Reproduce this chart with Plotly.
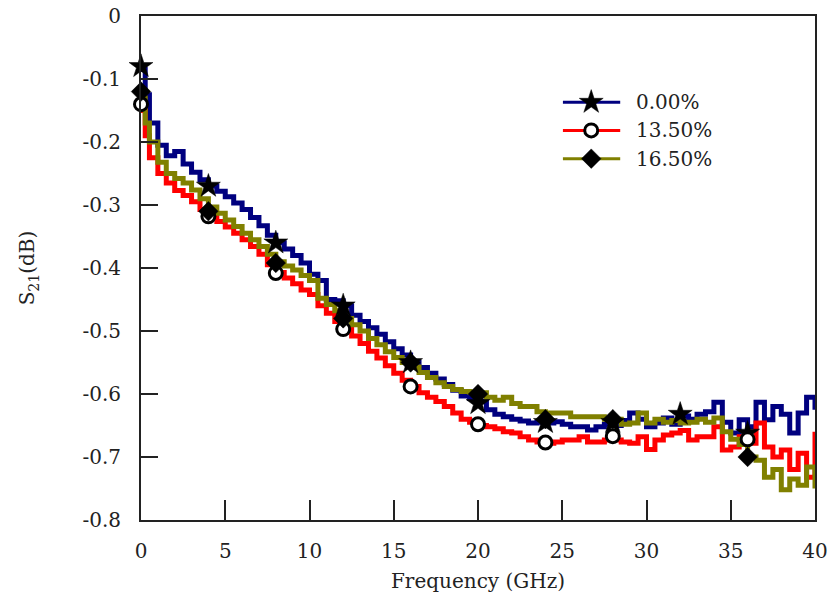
import plotly.graph_objects as go

freq = [0.0, 0.25, 0.5, 1.0, 1.5, 2.0, 2.5, 3.0, 3.5, 4.0, 4.5, 5.0, 5.5, 6.0, 6.5, 7.0, 7.5,
        8.0, 8.5, 9.0, 9.5, 10.0, 10.5, 11.0, 11.5, 12.0, 12.5, 13.0, 13.5, 14.0, 14.5,
        15.0, 15.5, 16.0, 16.5, 17.0, 17.5, 18.0, 18.5, 19.0, 19.5, 20.0, 20.5, 21.0,
        21.5, 22.0, 22.5, 23.0, 23.5, 24.0, 24.5, 25.0, 25.5, 26.0, 26.5, 27.0, 27.5,
        28.0, 28.5, 29.0, 29.5, 30.0, 30.5, 31.0, 31.5, 32.0, 32.5, 33.0, 33.5, 34.0,
        34.5, 35.0, 35.5, 36.0, 36.5, 37.0, 37.5, 38.0, 38.5, 39.0, 39.5, 40.0]

s21_0 = [-0.085, -0.125, -0.17, -0.205, -0.222, -0.215, -0.235, -0.248, -0.26, -0.27, -0.278,
         -0.287, -0.297, -0.307, -0.32, -0.333, -0.348, -0.36, -0.37, -0.38, -0.392,
         -0.41, -0.42, -0.45, -0.452, -0.46, -0.475, -0.485, -0.495, -0.505, -0.517,
         -0.528, -0.538, -0.55, -0.558, -0.567, -0.576, -0.585, -0.594, -0.603, -0.607,
         -0.612, -0.625, -0.632, -0.636, -0.64, -0.643, -0.646, -0.645, -0.646, -0.644,
         -0.648, -0.652, -0.652, -0.657, -0.652, -0.648, -0.65, -0.642, -0.63, -0.64,
         -0.652, -0.646, -0.638, -0.648, -0.635, -0.64, -0.632, -0.628, -0.613, -0.645,
         -0.662, -0.641, -0.652, -0.613, -0.641, -0.62, -0.632, -0.662, -0.63, -0.605,
         -0.625]

s21_135 = [-0.15, -0.19, -0.225, -0.25, -0.265, -0.277, -0.285, -0.295, -0.307, -0.318, -0.326,
           -0.335, -0.345, -0.355, -0.366, -0.378, -0.395, -0.407, -0.416, -0.425, -0.435,
           -0.442, -0.46, -0.472, -0.485, -0.497, -0.508, -0.52, -0.532, -0.543, -0.555,
           -0.567, -0.578, -0.588, -0.598, -0.605, -0.612, -0.62, -0.63, -0.64, -0.645,
           -0.65, -0.652, -0.655, -0.66, -0.662, -0.668, -0.673, -0.676, -0.678, -0.676,
           -0.673, -0.673, -0.668, -0.676, -0.676, -0.673, -0.673, -0.676, -0.678, -0.668,
           -0.688, -0.673, -0.665, -0.662, -0.658, -0.673, -0.668, -0.668, -0.652, -0.689,
           -0.684, -0.668, -0.678, -0.646, -0.684, -0.7, -0.689, -0.72, -0.694, -0.732,
           -0.66]

s21_165 = [-0.13, -0.17, -0.2, -0.232, -0.25, -0.258, -0.265, -0.276, -0.29, -0.303, -0.313,
           -0.324, -0.334, -0.345, -0.355, -0.366, -0.378, -0.39, -0.397, -0.403, -0.412,
           -0.42, -0.448, -0.458, -0.468, -0.48, -0.49, -0.5, -0.512, -0.522, -0.533,
           -0.542, -0.55, -0.557, -0.566, -0.574, -0.582, -0.588, -0.593, -0.596, -0.597,
           -0.598, -0.605, -0.61, -0.605, -0.615, -0.62, -0.62, -0.628, -0.63, -0.63,
           -0.63, -0.636, -0.636, -0.636, -0.636, -0.64, -0.64, -0.648, -0.646, -0.63,
           -0.646, -0.64, -0.645, -0.642, -0.646, -0.645, -0.64, -0.645, -0.638, -0.66,
           -0.672, -0.68, -0.7, -0.705, -0.732, -0.72, -0.752, -0.735, -0.745, -0.716,
           -0.75]

mk_f0 = [0, 4, 8, 12, 16, 20, 24, 28, 32, 36]
mk_v0 = [-0.08, -0.27, -0.36, -0.46, -0.55, -0.615, -0.645, -0.645, -0.632, -0.662]
mk_f135 = [0, 4, 8, 12, 16, 20, 24, 28, 36]
mk_v135 = [-0.14, -0.318, -0.408, -0.497, -0.588, -0.648, -0.677, -0.667, -0.672]
mk_f165 = [0, 4, 8, 12, 16, 20, 24, 28, 36]
mk_v165 = [-0.12, -0.31, -0.392, -0.48, -0.55, -0.6, -0.64, -0.64, -0.70]

labels = ["0.00%", "13.50%", "16.50%"]
colors = ["#00007F", "#FF0000", "#808000"]
symbols = ["star", "circle", "diamond"]
mfill = ["black", "white", "black"]
msize = [18, 13, 15]
mline = [0.5, 3, 0.5]

series = [s21_0, s21_135, s21_165]
mks = [(mk_f0, mk_v0), (mk_f135, mk_v135), (mk_f165, mk_v165)]

# legend key placement (fractions of the plot area)
leg_x0, leg_x1, leg_xm, leg_xt = 0.626, 0.711, 0.668, 0.732
leg_y = [0.829, 0.773, 0.717]

FONT = "DejaVu Serif"
TXT = "#222"
fig = go.Figure()
for i in range(3):
    fig.add_trace(go.Scatter(x=freq, y=series[i], mode="lines",
                             line=dict(color=colors[i], width=5, shape="hv"),
                             showlegend=False, hoverinfo="skip"))
for i in range(3):
    fig.add_trace(go.Scatter(x=mks[i][0], y=mks[i][1], mode="markers",
                             marker=dict(symbol=symbols[i], size=msize[i], color=mfill[i],
                                         line=dict(color="black", width=mline[i])),
                             cliponaxis=False, showlegend=False, hoverinfo="skip"))
# manual legend on an overlay axis
for i in range(3):
    fig.add_trace(go.Scatter(x=[leg_x0, leg_x1], y=[leg_y[i], leg_y[i]], mode="lines",
                             line=dict(color=colors[i], width=3),
                             xaxis="x2", yaxis="y2", showlegend=False, hoverinfo="skip"))
    fig.add_trace(go.Scatter(x=[leg_xm], y=[leg_y[i]], mode="markers",
                             marker=dict(symbol=symbols[i], size=msize[i], color=mfill[i],
                                         line=dict(color="black", width=mline[i])),
                             xaxis="x2", yaxis="y2", showlegend=False, hoverinfo="skip"))
    fig.add_annotation(x=leg_xt, y=leg_y[i], xref="x2", yref="y2", text=labels[i],
                       showarrow=False, xanchor="left", yanchor="middle",
                       font=dict(family=FONT, size=20, color=TXT))

fig.update_layout(
    width=830, height=606,
    margin=dict(l=141, r=15, t=16, b=86),
    paper_bgcolor="white", plot_bgcolor="white",
    font=dict(family=FONT, size=20, color=TXT),
    showlegend=False,
    xaxis=dict(range=[0, 40], tickvals=[0, 5, 10, 15, 20, 25, 30, 35, 40],
               ticks="inside", ticklen=20, tickwidth=2, tickcolor=TXT,
               showline=True, linecolor=TXT, linewidth=2, mirror=True,
               showgrid=False, zeroline=False, ticklabelstandoff=12, automargin=False,
               title=dict(text="Frequency (GHz)", font=dict(family=FONT, size=20), standoff=12)),
    yaxis=dict(range=[-0.8, 0], tickvals=[0, -0.1, -0.2, -0.3, -0.4, -0.5, -0.6, -0.7, -0.8],
               ticktext=["0", "-0.1", "-0.2", "-0.3", "-0.4", "-0.5", "-0.6", "-0.7", "-0.8"],
               ticks="inside", ticklen=17, tickwidth=2, tickcolor=TXT,
               showline=True, linecolor=TXT, linewidth=2, mirror=True,
               showgrid=False, zeroline=False, ticklabelstandoff=14, automargin=False,
               title=dict(text="S<sub>21</sub>(dB)", font=dict(family=FONT, size=20), standoff=42)),
    xaxis2=dict(overlaying="x", range=[0, 1], visible=False, fixedrange=True),
    yaxis2=dict(overlaying="y", range=[0, 1], visible=False, fixedrange=True),
)

fig.write_html("out.html")
